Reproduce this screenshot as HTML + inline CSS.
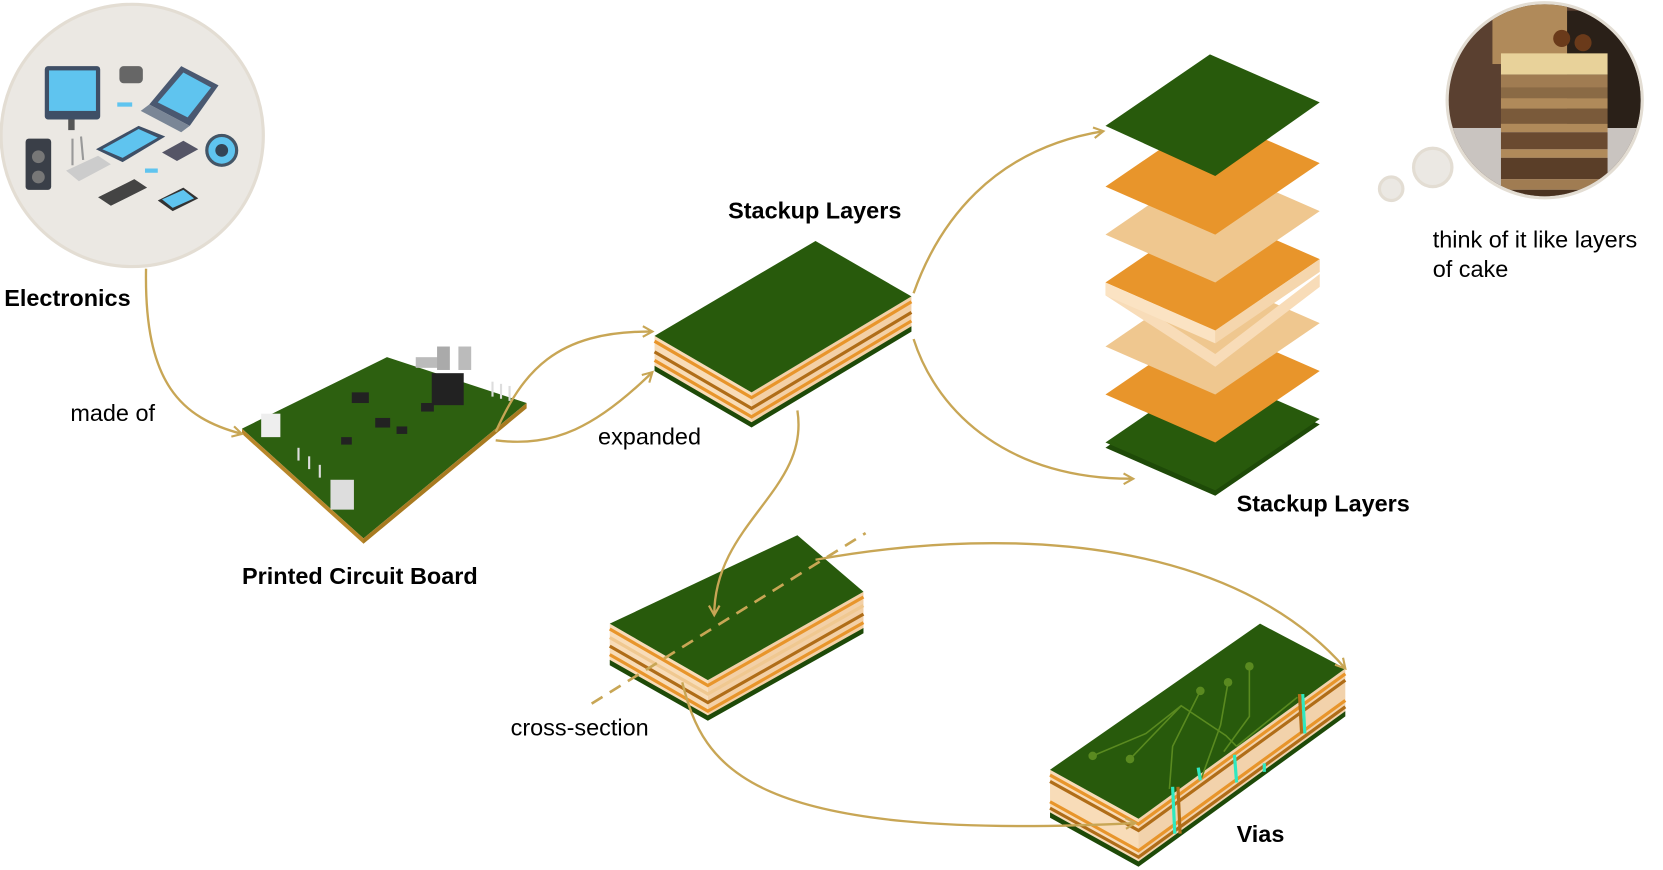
<!DOCTYPE html>
<html><head><meta charset="utf-8"><style>
html,body{margin:0;padding:0;background:#fff;}
svg{display:block}
text{font-family:"Liberation Sans",sans-serif;}
</style></head><body>
<svg width="1663" height="870" viewBox="0 0 1560 816" xmlns="http://www.w3.org/2000/svg">
<defs>
<marker id="ah" viewBox="0 0 12 12" refX="10" refY="6" markerWidth="12" markerHeight="12" markerUnits="userSpaceOnUse" orient="auto">
<path d="M1,1 L10,6 L1,11" fill="none" stroke="#c8a655" stroke-width="2"/>
</marker>
<clipPath id="cake"><circle cx="1449" cy="94" r="90"/></clipPath>
</defs>
<rect width="1560" height="816" fill="#fff"/>

<!-- Electronics circle -->
<circle cx="124" cy="127" r="123" fill="#ebe8e3" stroke="#e3ddd3" stroke-width="3"/>
<g>
<rect x="42" y="62" width="52" height="50" rx="3" fill="#3f4f66"/><rect x="46" y="66" width="44" height="38" fill="#5fc4ef"/>
<rect x="64" y="112" width="6" height="10" fill="#555"/>
<polygon points="140,98 170,62 205,80 178,118" fill="#4a5870"/><polygon points="148,96 172,68 198,82 176,110" fill="#5fc4ef"/>
<polygon points="140,98 178,118 170,124 132,104" fill="#7a8696"/>
<rect x="112" y="62" width="22" height="16" rx="4" fill="#666"/>
<polygon points="90,140 130,118 155,128 115,152" fill="#3f4f66"/><polygon points="96,140 130,121 148,129 115,148" fill="#5fc4ef"/>
<rect x="24" y="130" width="24" height="48" rx="3" fill="#3a3f48"/><circle cx="36" cy="147" r="6" fill="#777"/><circle cx="36" cy="166" r="6" fill="#777"/>
<polygon points="62,160 92,146 104,154 74,170" fill="#ccc"/><line x1="68" y1="155" x2="68" y2="130" stroke="#999" stroke-width="2"/><line x1="78" y1="150" x2="76" y2="128" stroke="#999" stroke-width="2"/>
<polygon points="92,185 126,168 138,176 104,193" fill="#444"/>
<polygon points="148,188 172,176 186,186 162,198" fill="#333"/><polygon points="152,187 172,178 182,186 162,195" fill="#5fc4ef"/>
<circle cx="208" cy="141" r="14" fill="#5fc4ef" stroke="#456" stroke-width="3"/><circle cx="208" cy="141" r="6" fill="#345"/>
<polygon points="152,143 172,132 186,140 166,151" fill="#556"/>
<rect x="110" y="96" width="14" height="4" fill="#5fc4ef"/><rect x="136" y="158" width="12" height="4" fill="#5fc4ef"/>
</g>
<text x="4" y="287" font-size="22" font-weight="bold">Electronics</text>
<text x="66" y="395" font-size="22">made of</text>
<text x="561" y="417" font-size="22">expanded</text>

<!-- PCB -->
<polygon points="227,402 363,335 494,378 341,505" fill="#2d6010"/>
<polygon points="227,402 341,505 341,510 227,407" fill="#b8862a"/>
<polygon points="341,505 494,378 494,383 341,510" fill="#a87a20"/>
<g fill="#222">
<rect x="330" y="368" width="16" height="10"/><rect x="352" y="392" width="14" height="9"/><rect x="405" y="350" width="30" height="30"/><rect x="390" y="335" width="22" height="10" fill="#bbb"/>
<rect x="395" y="378" width="12" height="8"/><rect x="320" y="410" width="10" height="7"/><rect x="372" y="400" width="10" height="7"/>
</g>
<rect x="410" y="325" width="12" height="22" fill="#aaa"/><rect x="430" y="325" width="12" height="22" fill="#bbb"/>
<rect x="245" y="388" width="18" height="22" fill="#eee"/><rect x="310" y="450" width="22" height="28" fill="#ddd"/>
<g stroke="#ddd" stroke-width="2"><line x1="280" y1="420" x2="280" y2="432"/><line x1="290" y1="428" x2="290" y2="440"/><line x1="300" y1="436" x2="300" y2="448"/><line x1="462" y1="358" x2="462" y2="372"/><line x1="470" y1="360" x2="470" y2="374"/><line x1="478" y1="362" x2="478" y2="376"/></g>
<text x="227" y="548" font-size="22" font-weight="bold">Printed Circuit Board</text>

<!-- Stackup block -->
<polygon points="614,315 705,368 705,398 614,345" fill="#f8dcb8"/>
<polygon points="705,368 855,278 855,308 705,398" fill="#f3d0a6"/>
<g stroke-width="3" fill="none">
<polyline points="614,320 705,373 855,283" stroke="#e8952b"/>
<polyline points="614,330 705,383 855,293" stroke="#b06d18"/>
<polyline points="614,338 705,391 855,301" stroke="#e8952b"/>
</g>
<polygon points="614,343 705,396 855,306 855,311 705,401 614,348" fill="#1e4a08"/>
<polygon points="614,315 765,226 855,278 705,368" fill="#285a0c"/>
<text x="683" y="205" font-size="22" font-weight="bold">Stackup Layers</text>

<!-- exploded layers -->
<g>
<polygon points="1037,420 1135,353 1238,398 1140,465" fill="#1e4a08"/>
<polygon points="1037,415 1135,348 1238,393 1140,460" fill="#285a0c"/>
<polygon points="1037,370 1135,303 1238,348 1140,415" fill="#e8952b"/>
<polygon points="1037,325 1135,258 1238,303 1140,370" fill="#efc78f"/>
<polygon points="1037,265 1140,332 1238,257 1238,269 1140,344 1037,277" fill="#f8dcb8"/>
<polygon points="1037,265 1135,198 1238,243 1140,310" fill="#e8952b"/>
<polygon points="1140,310 1238,243 1238,255 1140,322" fill="#f5d6ad"/>
<polygon points="1037,265 1140,310 1140,322 1037,277" fill="#fbe3c3"/>
<polygon points="1037,220 1135,153 1238,198 1140,265" fill="#efc78f"/>
<polygon points="1037,175 1135,108 1238,153 1140,220" fill="#e8952b"/>
<polygon points="1037,118 1135,51 1238,96 1140,165" fill="#285a0c"/>
</g>
<text x="1160" y="480" font-size="22" font-weight="bold">Stackup Layers</text>

<!-- cake -->
<circle cx="1305" cy="177" r="11" fill="#ebe8e3" stroke="#e3ddd3" stroke-width="3"/>
<circle cx="1344" cy="157" r="18" fill="#ebe8e3" stroke="#e3ddd3" stroke-width="3"/>
<circle cx="1449" cy="94" r="93" fill="#e3ddd3"/>
<g clip-path="url(#cake)">
<rect x="1350" y="0" width="200" height="200" fill="#5a4030"/>
<rect x="1350" y="120" width="200" height="80" fill="#c9c4c0"/>
<rect x="1470" y="10" width="80" height="110" fill="#2a2018"/>
<rect x="1400" y="0" width="70" height="60" fill="#b08a5a"/>
<rect x="1408" y="50" width="100" height="20" fill="#e8d29a"/>
<rect x="1408" y="70" width="100" height="12" fill="#a07c52"/>
<rect x="1408" y="82" width="100" height="10" fill="#8a6a45"/>
<rect x="1408" y="92" width="100" height="10" fill="#b08a5a"/>
<rect x="1408" y="102" width="100" height="14" fill="#7a5a3a"/>
<rect x="1408" y="116" width="100" height="8" fill="#b08a5a"/>
<rect x="1408" y="124" width="100" height="16" fill="#6a4a30"/>
<rect x="1408" y="140" width="100" height="8" fill="#b08a5a"/>
<rect x="1408" y="148" width="100" height="20" fill="#5a3e28"/>
<rect x="1408" y="168" width="100" height="10" fill="#a07c52"/>
<rect x="1408" y="178" width="100" height="20" fill="#4a3220"/>
<circle cx="1465" cy="36" r="8" fill="#6a3a1a"/><circle cx="1485" cy="40" r="8" fill="#6a3a1a"/>
</g>
<text x="1344" y="232" font-size="22">think of it like layers</text>
<text x="1344" y="260" font-size="22">of cake</text>

<!-- cross-section block -->
<polygon points="572,585 664,638 664,672 572,620" fill="#f8dcb8"/>
<polygon points="664,638 810,555 810,590 664,672" fill="#f3d0a6"/>
<g stroke-width="3" fill="none">
<polyline points="572,590 664,643 810,560" stroke="#e8952b"/>
<polyline points="572,598 664,651 810,568" stroke="#f0c890"/>
<polyline points="572,606 664,659 810,576" stroke="#b06d18"/>
<polyline points="572,614 664,667 810,584" stroke="#e8952b"/>
</g>
<polygon points="572,619 664,671 810,589 810,594 664,676 572,624" fill="#1e4a08"/>
<polygon points="572,585 748,502 810,555 664,638" fill="#285a0c"/>
<line x1="555" y1="660" x2="812" y2="500" stroke="#c8a655" stroke-width="2.5" stroke-dasharray="12,8"/>
<text x="479" y="690" font-size="22">cross-section</text>

<!-- Vias block -->
<polygon points="985,722 1068,768 1068,808 985,762" fill="#f8dcb8"/>
<polygon points="1068,768 1262,627 1262,667 1068,808" fill="#f2d2ab"/>
<g stroke-width="3" fill="none">
<polyline points="985,727 1068,773 1262,632" stroke="#e8952b"/>
<polyline points="985,733 1068,779 1262,638" stroke="#b06d18"/>
<polyline points="985,752 1068,798 1262,657" stroke="#e8952b"/>
<polyline points="985,758 1068,804 1262,663" stroke="#b06d18"/>
</g>
<polygon points="985,762 1068,808 1262,667 1262,672 1068,813 985,767" fill="#1e4a08"/>
<polygon points="985,722 1182,585 1262,627 1068,768" fill="#285a0c"/>
<g stroke="#5a8a20" stroke-width="1.5" fill="none">
<polyline points="1025,709 1075,688 1108,662 1150,690 1160,700"/>
<polyline points="1060,712 1108,662"/>
<polyline points="1097,740 1100,700 1126,648"/>
<polyline points="1127,730 1145,680 1152,640"/>
<polyline points="1148,705 1172,672 1172,625"/>
<polyline points="1160,700 1217,654"/>
</g>
<g fill="#5a8a20"><circle cx="1025" cy="709" r="4"/><circle cx="1060" cy="712" r="4"/><circle cx="1126" cy="648" r="4"/><circle cx="1152" cy="640" r="4"/><circle cx="1172" cy="625" r="4"/></g>
<g stroke="#2ee8c0" stroke-width="3"><line x1="1100" y1="738" x2="1102" y2="782"/><line x1="1222" y1="651" x2="1224" y2="688"/><line x1="1158" y1="708" x2="1160" y2="734"/><line x1="1124" y1="720" x2="1126" y2="732"/><line x1="1186" y1="716" x2="1186" y2="724"/></g>
<g stroke="#b06d18" stroke-width="3"><line x1="1105" y1="738" x2="1107" y2="782"/><line x1="1219" y1="651" x2="1221" y2="688"/></g>
<text x="1160" y="790" font-size="22" font-weight="bold">Vias</text>

<!-- arrows (on top) -->
<g fill="none" stroke="#c8a655" stroke-width="2.2" marker-end="url(#ah)">
<path d="M137,252 C135,360 170,392 227,407"/>
<path d="M465,405 C490,350 520,310 612,311"/>
<path d="M465,413 C520,420 560,400 612,349"/>
<path d="M857,275 C880,210 930,140 1035,123"/>
<path d="M857,318 C880,390 950,450 1063,449"/>
<path d="M748,385 C760,460 670,490 670,577"/>
<path d="M765,525 C960,490 1160,510 1262,627"/>
<path d="M640,640 C660,720 700,790 1065,772"/>
</g>
</svg>
</body></html>
